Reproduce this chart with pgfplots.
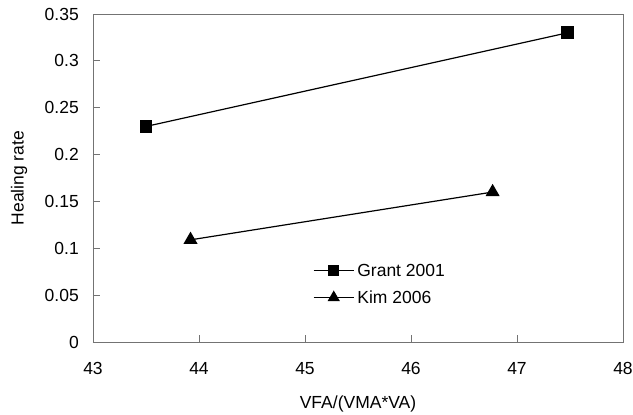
\documentclass[border=0pt]{standalone}
\usepackage{fontspec}
\setmainfont{Liberation Sans}
\usepackage{pgfplots}
\pgfplotsset{compat=1.18}

\newcommand{\chartfont}{\fontsize{17.5bp}{20bp}\selectfont}

\begin{document}
\begin{tikzpicture}[font=\chartfont]
\useasboundingbox (-93bp,-73bp) rectangle (540bp,342bp);
\begin{axis}[
  scale only axis,
  width=530bp, height=328bp,
  xmin=43, xmax=48, ymin=0, ymax=0.35,
  xtick={43,44,45,46,47,48},
  ytick={0,0.05,0.1,0.15,0.2,0.25,0.3,0.35},
  tick align=inside,
  major tick length=7bp,
  xtick pos=bottom, ytick pos=left,
  axis line style={draw=black!55, line width=0.9bp},
  tick style={draw=black!55, line width=0.9bp},
  /pgf/number format/assume math mode=true,
  ticklabel style={font=\chartfont},
  label style={font=\chartfont},
  yticklabel style={/pgf/number format/fixed, /pgf/number format/precision=2,
    anchor=east, inner sep=0pt, xshift=-14bp},
  xticklabel style={anchor=north, inner sep=0pt, yshift=-20bp},
  xlabel={VFA/(VMA*VA)},
  ylabel={Healing rate},
  xlabel style={at={(axis description cs:0.5,-0.189)}, anchor=center},
  ylabel style={at={(axis description cs:-0.1396,0.5)}, anchor=center, rotate=0},
  legend style={draw=none, fill=none, at={(axis description cs:0.415,0.239)},
    anchor=north west, row sep=13bp, column sep=3bp, inner sep=0pt,
    font=\chartfont, nodes={inner sep=0pt}},
  legend cell align=left,
  legend image code/.code={
    \draw[#1, mark repeat=2, mark phase=2, mark size=0.85*\pgfplotmarksize]
      plot coordinates {(0bp,0bp) (20bp,0bp) (40bp,0bp)};
  },
]
\addplot[black, line width=1.2bp, mark=square*, mark size=5.8bp,
  mark options={solid}] coordinates {
  (43.5, 0.23)
  (47.48, 0.33)
};
\addlegendentry{Grant 2001}
\addplot[black, line width=1.2bp, mark=triangle*, mark size=7bp,
  mark options={solid}] coordinates {
  (43.92, 0.109)
  (46.77, 0.16)
};
\addlegendentry{Kim 2006}
\end{axis}
\end{tikzpicture}
\end{document}
